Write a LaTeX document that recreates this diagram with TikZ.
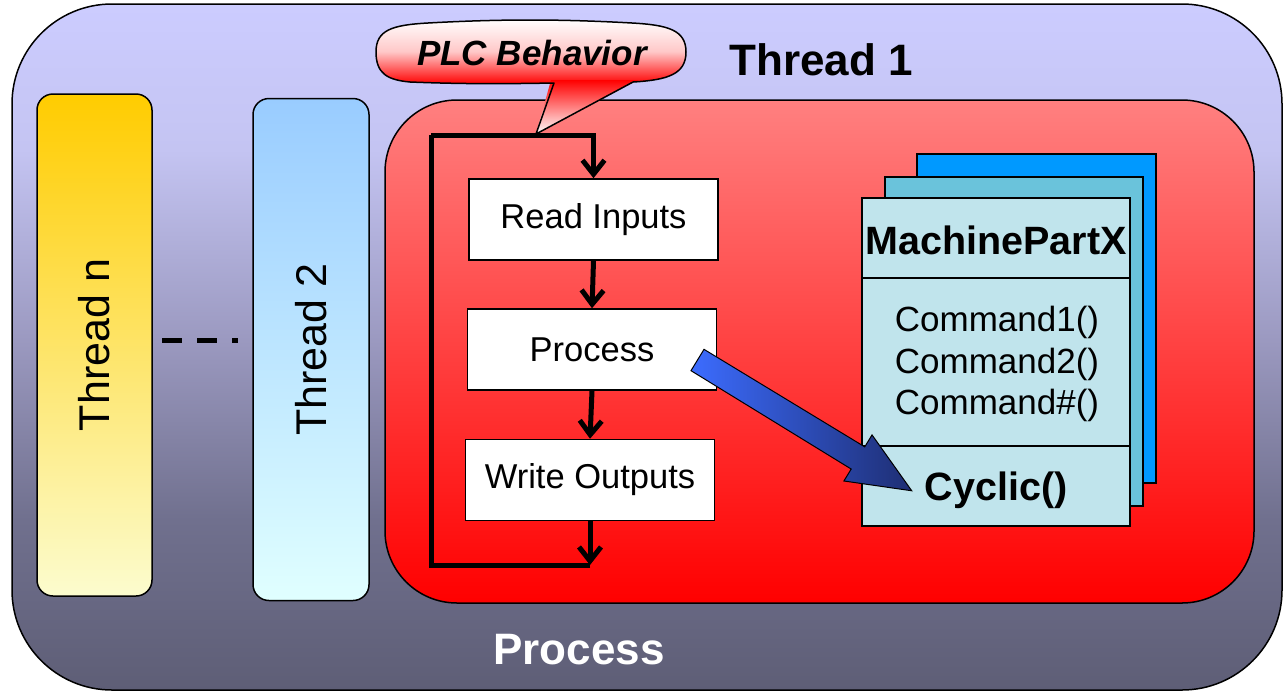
\documentclass[tikz,border=0pt]{standalone}
\usepackage{fontspec}
\setmainfont{Liberation Sans}
\usetikzlibrary{arrows.meta,calc}

\definecolor{goldTop}{RGB}{255,204,0}
\definecolor{goldBot}{RGB}{252,252,206}
\definecolor{skyTop}{RGB}{153,204,255}
\definecolor{skyBot}{RGB}{224,255,255}
\definecolor{thrTop}{RGB}{255,128,128}
\definecolor{thrBot}{RGB}{255,0,0}
\definecolor{partBack}{RGB}{0,153,255}
\definecolor{partMid}{RGB}{106,195,219}
\definecolor{partFront}{RGB}{192,228,236}
\definecolor{arrLight}{RGB}{60,108,255}
\definecolor{arrDark}{RGB}{30,46,115}
\definecolor{blush}{RGB}{255,200,200}

% background of the process container: lavender fading to slate
\pgfdeclareverticalshading{procshade}{100bp}{%
  color(0bp)=(rgb,255:red,94;green,94;blue,118);
  color(25bp)=(rgb,255:red,94;green,94;blue,118);
  color(37.4bp)=(rgb,255:red,112;green,112;blue,142);
  color(50.5bp)=(rgb,255:red,155;green,153;blue,192);
  color(64.4bp)=(rgb,255:red,196;green,196;blue,242);
  color(75bp)=(rgb,255:red,204;green,204;blue,255);
  color(100bp)=(rgb,255:red,204;green,204;blue,255)}

\begin{document}
\begin{tikzpicture}[x=1pt,y=1pt,
  frame/.style={draw=black, line width=1.5},
  thread/.style={frame, rounded corners=16, minimum width=115, minimum height=502,
    inner sep=0, font=\fontsize{43}{50}\selectfont},
  stepbox/.style={frame, fill=white, minimum width=249, minimum height=81,
    inner sep=0, font=\fontsize{34.5}{40}\selectfont},
  sheet/.style={frame, minimum width=#1, minimum height=329, inner sep=0},
  flow/.style={line width=5, line join=miter,
    -{Straight Barb[length=14,width=22]}},
  bigbold/.style={font=\bfseries\fontsize{44}{50}\selectfont}
]
\useasboundingbox (0,0) rectangle (1284,-694);

% outer process container
\path[frame, rounded corners=100, shading=procshade]
  (12,-4) rectangle (1282,-690);
\node[bigbold, text=white] (proclabel) at (579,-650) {Process};

% other threads
\node[thread, top color=goldTop, bottom color=goldBot] (tn) at (94.5,-345) {\rotatebox{90}{Thread n}};
\node[thread, top color=skyTop, bottom color=skyBot, minimum width=116] (t2) at (311,-349.5) {\rotatebox{90}{Thread 2}};
\draw[line width=5, dash pattern=on 20 off 15] (162,-340.5) -- (237.5,-340.5);

% thread 1
\node[frame, rounded corners=72, minimum width=869, minimum height=503, inner sep=0,
  top color=thrTop, bottom color=thrBot] (t1) at (819.5,-351.5) {};
\node[bigbold] (t1label) at (821,-60) {Thread 1};

% callout: bubble and pointer shaded separately, then one outline
\path[top color=white, bottom color=red, middle color=blush]
  (376,-52) .. controls (376,-30) and (392,-25) .. (428,-23)
  .. controls (500,-19) and (560,-19) .. (632,-23)
  .. controls (668,-25) and (686,-30) .. (686,-52)
  .. controls (686,-74) and (668,-80) .. (633,-82)
  -- (554,-83)
  .. controls (500,-84) and (460,-84) .. (410,-82)
  .. controls (388,-80) and (376,-74) .. (376,-52) -- cycle;
\path[top color=red, bottom color=white]
  (551,-80) -- (638,-80) -- (536,-134) -- cycle;
\draw[line width=1.5, line join=round]
  (376,-52) .. controls (376,-30) and (392,-25) .. (428,-23)
  .. controls (500,-19) and (560,-19) .. (632,-23)
  .. controls (668,-25) and (686,-30) .. (686,-52)
  .. controls (686,-74) and (668,-80) .. (633,-82)
  -- (536,-134) -- (554,-83)
  .. controls (500,-84) and (460,-84) .. (410,-82)
  .. controls (388,-80) and (376,-74) .. (376,-52) -- cycle;
\node[font=\bfseries\itshape\fontsize{35}{40}\selectfont] (plc) at (532,-53) {PLC Behavior};

% cycle steps
\node[stepbox] (ri) at (593.5,-219.5) {Read Inputs};
\node[stepbox] (pr) at (592,-349.5) {Process};
\node[stepbox] (wo) at (590,-480) {Write Outputs};
\coordinate (lb) at (431,-565);
\coordinate (lt) at (431,-135);
\draw[flow] (ri.south) -- (pr.north);
\draw[flow] (pr.south) -- (wo.north);
\draw[flow] (wo.south) -- (wo.south |- lb);
\draw[line width=5, line join=miter] (wo.south |- lb) -- (lb) -- (lt);
\draw[flow] (lt) -| (ri.north);

% machine part class stack
\node[sheet=239, fill=partBack] (mb) at (1036.5,-318.5) {};
\node[sheet=258, fill=partMid] (mm) at (1014,-341.5) {};
\node[sheet=268, fill=partFront, minimum height=328] (mf) at (996,-362) {};
\coordinate (d1) at (0,-278);
\coordinate (d2) at (0,-446);
\draw[line width=1.5] (mf.west |- d1) -- (mf.east |- d1);
\draw[line width=1.5] (mf.west |- d2) -- (mf.east |- d2);
\node[font=\bfseries\fontsize{39.5}{45}\selectfont] (mname) at (996,-240) {MachinePartX};
\node[align=center, font=\fontsize{35}{41.5}\selectfont] (mcmd) at (997,-364)
  {Command1()\\Command2()\\Command\#()};
\node[font=\bfseries\fontsize{39.5}{45}\selectfont] (mcyc) at (996,-490) {Cyclic()};

% call from the process step into the cyclic method
\coordinate (bt) at (697.5,-360);
\begin{scope}[shift={(bt)}, rotate=-31.4]
  \path[draw=black, line width=1, left color=arrLight, right color=arrDark]
    (0,12.5) -- (188,13) -- (188,27) -- (251,0) -- (188,-27) -- (188,-13) -- (0,-12.5) -- cycle;
\end{scope}
\end{tikzpicture}
\end{document}
